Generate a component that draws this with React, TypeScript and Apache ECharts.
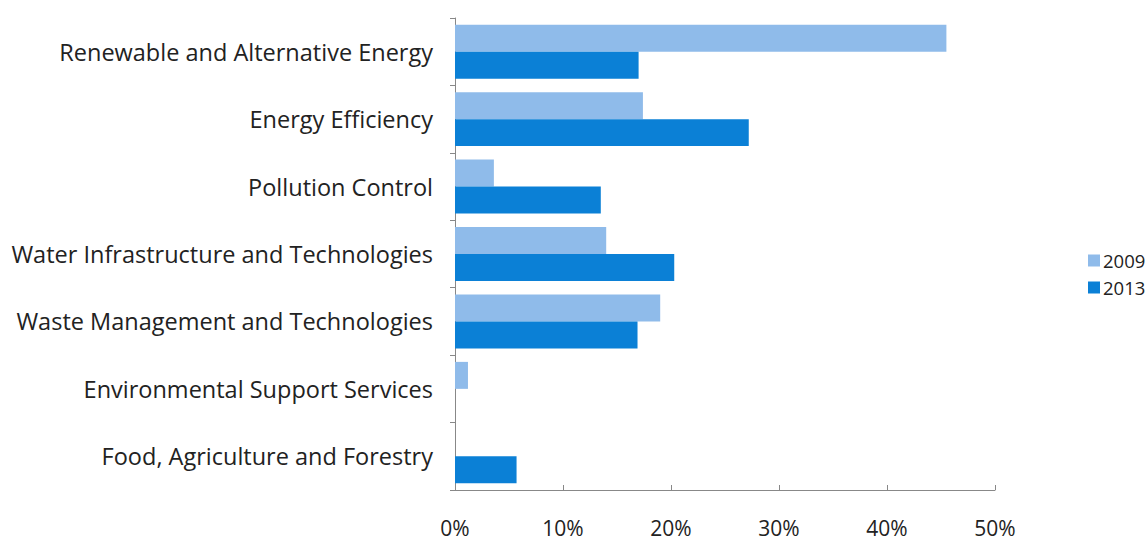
import React, { useEffect, useRef } from "react";
import * as echarts from "echarts";

const categories = [
  "Renewable and Alternative Energy",
  "Energy Efficiency",
  "Pollution Control",
  "Water Infrastructure and Technologies",
  "Waste Management and Technologies",
  "Environmental Support Services",
  "Food, Agriculture and Forestry",
];
const values2009 = [45.5, 17.4, 3.6, 14.0, 19.0, 1.2, 0];
const values2013 = [17.0, 27.2, 13.5, 20.3, 16.9, 0, 5.7];
const seriesNames = ["2009", "2013"];
const xTicks = [0, 10, 20, 30, 40, 50];

export default function App() {
  const ref = useRef<HTMLDivElement>(null);
  useEffect(() => {
    const chart = echarts.init(ref.current!, undefined, { renderer: "svg" });
    const font = "Open Sans";
    chart.setOption({
      animation: false,
      backgroundColor: "#ffffff",
      textStyle: { fontFamily: font },
      legend: {
        orient: "vertical",
        left: 1083,
        top: 246,
        itemWidth: 12,
        itemHeight: 12,
        itemGap: 8,
        icon: "rect",
        textStyle: { fontSize: 18.5, color: "#222", fontFamily: font, padding: [0, 0, 0, -2] },
        data: seriesNames,
      },
      grid: { left: 455, right: 153, top: 18, bottom: 56 },
      xAxis: {
        type: "value",
        min: xTicks[0],
        max: xTicks[xTicks.length - 1],
        interval: 10,
        axisLine: { show: true, lineStyle: { color: "#888" } },
        axisTick: { show: true, inside: true, length: 5, lineStyle: { color: "#888" } },
        splitLine: { show: false },
        axisLabel: {
          formatter: (v: number) => v + "%",
          fontSize: 21,
          color: "#222",
          margin: 27,
          fontFamily: font,
        },
      },
      yAxis: {
        type: "category",
        data: categories,
        inverse: true,
        axisLine: { show: true, lineStyle: { color: "#888" } },
        axisTick: { show: true, length: 5, lineStyle: { color: "#888" } },
        axisLabel: { fontSize: 23.5, color: "#222", margin: 22, fontFamily: font },
      },
      series: [
        {
          name: seriesNames[0],
          type: "bar",
          data: values2009,
          barGap: "0%",
          barCategoryGap: "20%",
          itemStyle: { color: "#8fbbea" },
        },
        {
          name: seriesNames[1],
          type: "bar",
          data: values2013,
          barGap: "0%",
          barCategoryGap: "20%",
          itemStyle: { color: "#0b80d6" },
        },
      ],
    });
    return () => chart.dispose();
  }, []);
  return (
    <div
      ref={ref}
      style={{ position: "absolute", left: 0, top: 0, width: 1148, height: 546 }}
    />
  );
}
